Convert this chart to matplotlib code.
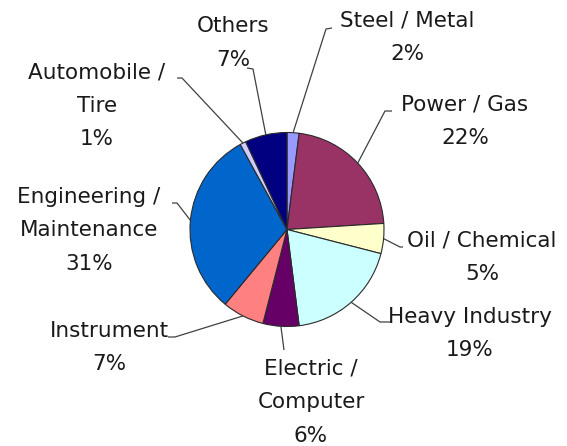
import numpy as np
import matplotlib
matplotlib.use("Agg")
import matplotlib.pyplot as plt

plt.rcParams['font.family'] = ['DejaVu Sans']

# ---- data ----
categories = ["Steel / Metal", "Power / Gas", "Oil / Chemical", "Heavy Industry",
              "Electric /\nComputer", "Instrument", "Engineering /\nMaintenance",
              "Automobile /\nTire", "Others"]
shares = [2, 22, 5, 19, 6, 7, 31, 1, 7]
colors = ["#9999FF", "#993366", "#FFFFCC", "#CCFFFF", "#660066",
          "#FF8080", "#0066CC", "#CCCCFF", "#000080"]

# ---- layout (pixel space, y measured from top) ----
W, H = 567, 446
CX, CY, R = 287, 229.5, 97
# label block: (center x, first baseline y)
label_pos = [(407, 27), (465, 110), (482, 247), (470, 323), (311, 375),
             (109, 337), (89, 203), (97, 78), (233, 32)]
LINE_STEP = 33.5
# leader line: knee point and tick end
leaders = [((326, 29), (332, 28)), ((385, 111), (392, 111)), ((400, 247), (403, 247)),
           ((380, 322), (390, 322)), ((284, 350), None), ((175, 337), (168, 337)),
           ((177, 203), (172, 203)), ((182, 78), (177, 78)), ((253, 69), (247, 68))]

fig = plt.figure(figsize=(W / 100, H / 100), dpi=100)
ax = fig.add_axes([0, 0, 1, 1])

def Y(y):
    return H - y

wedges, _ = ax.pie(shares, colors=colors, startangle=90, counterclock=False,
                   center=(CX, Y(CY)), radius=R,
                   wedgeprops=dict(edgecolor="#2a2a2a", linewidth=0.8))

ax.set_xlim(0, W)
ax.set_ylim(0, H)
ax.set_aspect('equal')
ax.axis('off')

line_col = "#404040"
for w, cat, val, (lx, ly), (knee, tick) in zip(wedges, categories, shares, label_pos, leaders):
    mid = np.deg2rad((w.theta1 + w.theta2) / 2)
    px = CX + R * np.cos(mid)
    py = Y(CY) + R * np.sin(mid)
    xs = [px, knee[0]]
    ys = [py, Y(knee[1])]
    if tick is not None:
        xs.append(tick[0])
        ys.append(Y(tick[1]))
    ax.plot(xs, ys, color=line_col, lw=0.9, solid_capstyle='butt')
    lines = cat.split("\n") + [f"{val}%"]
    for i, t in enumerate(lines):
        ax.text(lx, Y(ly + i * LINE_STEP), t, ha='center', va='baseline',
                fontsize=15.5, color="#1a1a1a")

fig.savefig("out.png", dpi=100)
